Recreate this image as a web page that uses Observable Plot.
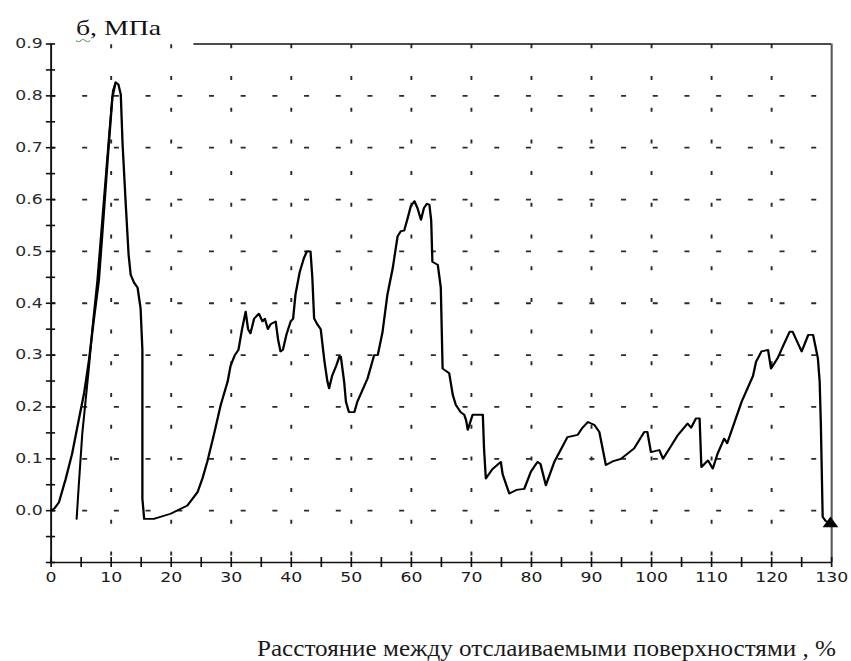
<!DOCTYPE html>
<html>
<head>
<meta charset="utf-8">
<script src="https://cdn.jsdelivr.net/npm/d3@7"></script>
<script src="https://cdn.jsdelivr.net/npm/@observablehq/plot@0.6"></script>
<style>
  html, body { margin: 0; padding: 0; background: #fff; }
  #root { position: relative; width: 851px; height: 661px; overflow: hidden; background: #fff; }
  #chart { position: absolute; left: 0; top: 0; width: 665px; transform: scaleX(1.2797); transform-origin: 0 0; }
  .title { position: absolute; left: 76px; top: 17.5px; font-family: "Liberation Serif", serif; font-size: 21px; line-height: 21px; white-space: nowrap; transform-origin: 0 0; color: #111; }
  .title .sq { text-decoration: underline wavy #6aa86a; text-decoration-thickness: 1px; text-underline-offset: 3px; }
  .xlabel { position: absolute; left: 257px; top: 636.5px; font-family: "Liberation Serif", serif; font-size: 23px; line-height: 23px; white-space: nowrap; transform-origin: 0 0; color: #1a1a1a; }
</style>
</head>
<body>
<div id="root">
  <div id="chart"></div>
  <div class="title" id="title"><span class="sq">б</span>, МПа</div>
  <div class="xlabel" id="xlabel">Расстояние между отслаиваемыми поверхностями , %</div>
</div>
<script>
// ---- data ----
const mainX = [0, 0.6, 1.3, 2.4, 3.5, 4.6, 5.5, 6.3, 7.1, 7.95, 8.5, 9.4, 10.2, 10.75, 11.2, 11.6, 11.9, 12.4, 12.9, 13.25, 13.8, 14.4, 14.9, 15.2, 15.2, 15.5, 17.1, 19.9, 22.7, 24.4, 25.2, 26, 27.1, 28.25, 29.4, 29.9, 30.6, 31.2, 31.8, 32.4, 32.8, 33.2, 33.8, 34.6, 35.2, 35.6, 36.1, 36.6, 37.4, 37.8, 38.2, 38.6, 39.2, 39.9, 40.3, 40.7, 41.4, 42.1, 42.6, 43.2, 43.5, 43.8, 44.3, 44.9, 45.5, 46.0, 46.3, 46.8, 47.5, 48.0, 48.25, 48.8, 49.1, 49.6, 50.5, 51, 52.7, 53.8, 54.4, 55.2, 56, 56.9, 57.7, 58.25, 58.8, 59.4, 59.9, 60.5, 61, 61.6, 62.1, 62.6, 63, 63.3, 63.5, 64.4, 64.9, 65.2, 65.7, 66.3, 66.9, 67.4, 68.2, 68.8, 69.1, 69.4, 70.2, 71.9, 72.1, 72.4, 73.5, 74.9, 75.2, 75.8, 76.3, 77.5, 78.8, 79.9, 81, 81.5, 82.4, 83.8, 85, 86, 87.7, 88.5, 89.4, 90.5, 91.3, 92.4, 93.5, 94.9, 97.1, 98.8, 99.3, 99.9, 101.3, 101.9, 103, 104.4, 106, 106.6, 107.4, 108, 108.3, 109.4, 110.2, 111, 112.1, 112.6, 113.8, 115, 116.9, 117.4, 118.3, 119.4, 119.9, 121, 122, 123, 123.5, 125, 126.1, 126.9, 127.7, 128, 128.2, 128.5, 129, 129.8];
const mainY = [0, 0.005, 0.016, 0.06, 0.11, 0.175, 0.227, 0.29, 0.367, 0.444, 0.53, 0.674, 0.797, 0.826, 0.822, 0.803, 0.707, 0.597, 0.494, 0.455, 0.44, 0.43, 0.39, 0.31, 0.023, -0.016, -0.016, -0.006, 0.01, 0.036, 0.062, 0.094, 0.146, 0.204, 0.249, 0.28, 0.30, 0.31, 0.35, 0.384, 0.35, 0.342, 0.37, 0.38, 0.365, 0.37, 0.35, 0.36, 0.365, 0.33, 0.307, 0.31, 0.34, 0.365, 0.37, 0.417, 0.46, 0.487, 0.50, 0.50, 0.45, 0.371, 0.36, 0.35, 0.29, 0.25, 0.236, 0.26, 0.28, 0.297, 0.297, 0.249, 0.21, 0.19, 0.19, 0.21, 0.255, 0.30, 0.30, 0.345, 0.416, 0.468, 0.529, 0.539, 0.54, 0.565, 0.587, 0.597, 0.584, 0.561, 0.584, 0.592, 0.59, 0.56, 0.48, 0.474, 0.43, 0.274, 0.27, 0.265, 0.223, 0.204, 0.19, 0.185, 0.175, 0.156, 0.185, 0.185, 0.12, 0.062, 0.08, 0.094, 0.07, 0.05, 0.033, 0.04, 0.042, 0.075, 0.094, 0.09, 0.049, 0.094, 0.12, 0.142, 0.146, 0.16, 0.171, 0.165, 0.152, 0.088, 0.095, 0.1, 0.12, 0.152, 0.152, 0.113, 0.117, 0.1, 0.12, 0.146, 0.168, 0.16, 0.178, 0.178, 0.084, 0.097, 0.081, 0.11, 0.139, 0.13, 0.17, 0.21, 0.26, 0.287, 0.307, 0.31, 0.274, 0.294, 0.32, 0.345, 0.345, 0.307, 0.339, 0.339, 0.294, 0.249, 0.165, -0.012, -0.02, -0.025];

const secondX = [4.25, 4.6, 5.2, 5.75, 6.3, 6.9, 7.7, 8.3, 9.0, 9.7, 10.3, 10.75];
const secondY = [-0.016, 0.048, 0.15, 0.213, 0.277, 0.354, 0.444, 0.53, 0.63, 0.73, 0.81, 0.826];

const xTickLabels = [0, 10, 20, 30, 40, 50, 60, 70, 80, 90, 100, 110, 120, 130];
const yTickLabels = [0.0, 0.1, 0.2, 0.3, 0.4, 0.5, 0.6, 0.7, 0.8, 0.9];
const xMinorTicks = [0, 5, 10, 15, 20, 25, 30, 35, 40, 45, 50, 55, 60, 65, 70, 75, 80, 85, 90, 95, 100, 105, 110, 115, 120, 125, 130];
const yMinorTicks = [-0.1, -0.05, 0.0, 0.05, 0.1, 0.15, 0.2, 0.25, 0.3, 0.35, 0.4, 0.45, 0.5, 0.55, 0.6, 0.65, 0.7, 0.75, 0.8, 0.85, 0.9];
const gridXValues = [10, 20, 30, 40, 50, 60, 70, 80, 90, 100, 110, 120];
const gridYValues = [0.0, 0.1, 0.2, 0.3, 0.4, 0.5, 0.6, 0.7, 0.8];
const xDomain = [0, 130];
const yDomain = [-0.1, 0.9];
const topLineStart = 23.8;

// ---- tables ----
const mainSeries = mainX.map((x, i) => ({x, y: mainY[i]}));
const secondSeries = secondX.map((x, i) => ({x, y: secondY[i]}));
const endPoint = [mainSeries[mainSeries.length - 1]];

// ---- layout (unscaled; chart is stretched horizontally by CSS) ----
const W = 665, H = 600;
const mL = 39.45, mR = 15.6, mT = 43.5, mB = 38;
const pxPerX = (W - mL - mR) / (xDomain[1] - xDomain[0]);
const pxPerY = (H - mT - mB) / (yDomain[1] - yDomain[0]);
const yTickHalf = 3.6 / pxPerX;
const xTickHalf = 5 / pxPerY;
const font = "DejaVu Sans";

const chart = Plot.plot({
  width: W,
  height: H,
  marginLeft: mL,
  marginRight: mR,
  marginTop: mT,
  marginBottom: mB,
  x: {domain: xDomain, axis: null},
  y: {domain: yDomain, axis: null},
  style: {background: "#fff", overflow: "visible"},
  marks: [
    // dotted grid
    Plot.ruleY(gridYValues, {y: d => d, x1: xDomain[0], x2: xDomain[1], stroke: "#2a2a2a", strokeWidth: 1.8, strokeDasharray: "3.9,20.87", strokeDashoffset: 0}),
    Plot.ruleX(gridXValues, {x: d => d, y1: yDomain[1], y2: yDomain[0], stroke: "#2a2a2a", strokeWidth: 1.5, strokeDasharray: "4,27.7", strokeDashoffset: -0.8}),
    // frame
    Plot.ruleX([xDomain[0]], {x: d => d, y1: yDomain[0], y2: yDomain[1], stroke: "#111", strokeWidth: 1.5}),
    Plot.ruleY([yDomain[0]], {y: d => d, x1: xDomain[0], x2: xDomain[1], stroke: "#111", strokeWidth: 1.7}),
    Plot.ruleX([xDomain[1]], {x: d => d, y1: yDomain[0], y2: yDomain[1], stroke: "#555", strokeWidth: 1.6}),
    Plot.ruleY([yDomain[1]], {y: d => d, x1: topLineStart, x2: xDomain[1], stroke: "#111", strokeWidth: 1.6}),
    // ticks crossing the axes
    Plot.ruleY(yMinorTicks, {y: d => d, x1: -yTickHalf, x2: yTickHalf, stroke: "#111", strokeWidth: 1.6}),
    Plot.ruleX(xMinorTicks, {x: d => d, y1: yDomain[0] - xTickHalf, y2: yDomain[0] + xTickHalf, stroke: "#111", strokeWidth: 1.3}),
    // tick labels
    Plot.text(yTickLabels, {x: xDomain[0], y: d => d, text: d => d.toFixed(1), textAnchor: "end", dx: -6.5, fontSize: 13.5, fontFamily: font, fill: "#2a2a2a"}),
    Plot.text(xTickLabels, {x: d => d, y: yDomain[0], text: d => String(d), dy: 15.5, fontSize: 13.5, fontFamily: font, fill: "#1a1a1a"}),
    // curves
    Plot.line(secondSeries, {x: "x", y: "y", stroke: "#000", strokeWidth: 1.6}),
    Plot.line(mainSeries, {x: "x", y: "y", stroke: "#000", strokeWidth: 1.8}),
    Plot.dot(endPoint, {x: "x", y: "y", symbol: "triangle", r: 3.6, fill: "#000", stroke: "#000"})
  ]
});
document.getElementById("chart").appendChild(chart);

// fit the separate text blocks to their widths in the reference
function fit(id, target) {
  const el = document.getElementById(id);
  const w = el.getBoundingClientRect().width;
  if (w > 0) el.style.transform = `scaleX(${target / w})`;
}
fit("title", 85);
fit("xlabel", 579);
</script>
</body>
</html>
